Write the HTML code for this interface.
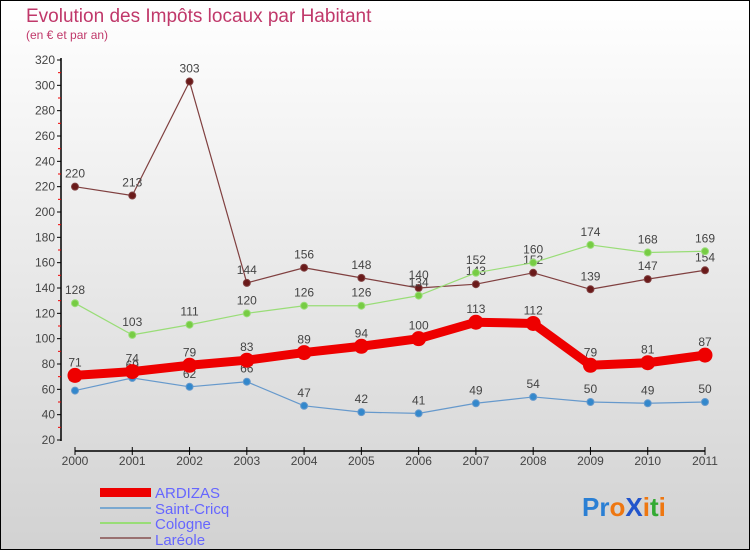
<!DOCTYPE html>
<html><head><meta charset="utf-8"><style>
body{margin:0}
#c{width:750px;height:550px;position:relative;box-sizing:border-box;border:1px solid #000;background:linear-gradient(#ffffff,#d2d2d2);font-family:"Liberation Sans",sans-serif;overflow:hidden}
</style></head><body>
<div id="c">
<svg id="s" width="750" height="550" style="position:absolute;left:-1px;top:-1px">
<text x="26" y="22" font-size="19" fill="#c0386a">Evolution des Impôts locaux par Habitant</text>
<text x="26" y="39" font-size="12" fill="#c0386a">(en € et par an)</text>
<g id="ax"></g><g id="ser"></g>
<g>
<rect x="100" y="488" width="51" height="9" fill="#e00"/>
<text x="155" y="498" font-size="15" fill="#6666ff">ARDIZAS</text>
<line x1="100" y1="508" x2="151" y2="508" stroke="#7aa8d0" stroke-width="2"/>
<text x="155" y="514" font-size="15" fill="#6666ff">Saint-Cricq</text>
<line x1="100" y1="523" x2="151" y2="523" stroke="#99dd77" stroke-width="2"/>
<text x="155" y="529" font-size="15" fill="#6666ff">Cologne</text>
<line x1="100" y1="538" x2="151" y2="538" stroke="#997070" stroke-width="2"/>
<text x="155" y="545" font-size="15" fill="#6666ff">Laréole</text>
</g>
<g font-size="26" font-weight="bold" font-family="Liberation Sans, sans-serif">
<text x="582" y="516"><tspan fill="#2a7fd4">Pr</tspan><tspan fill="#ee7711">o</tspan><tspan fill="#2255cc">X</tspan><tspan fill="#ee7711">i</tspan><tspan fill="#33aa33">t</tspan><tspan fill="#ee7711">i</tspan></text>
</g>
</svg>
</div>
<script>
const years=["2000","2001","2002","2003","2004","2005","2006","2007","2008","2009","2010","2011"];
const ardizas=[71,74,79,83,89,94,100,113,112,79,81,87];
const saintCricq=[59,69,62,66,47,42,41,49,54,50,49,50];
const cologne=[128,103,111,120,126,126,134,152,160,174,168,169];
const lareole=[220,213,303,144,156,148,140,143,152,139,147,154];
const yTicks=[20,40,60,80,100,120,140,160,180,200,220,240,260,280,300,320];
const NS="http://www.w3.org/2000/svg";
const X=i=>75+i*(630/11);
const Y=v=>440-(v-20)*(380/300);
function mk(t,a,p){const e=document.createElementNS(NS,t);for(const k in a)e.setAttribute(k,a[k]);p.appendChild(e);return e;}
const ax=document.getElementById('ax');
const yl=mk('line',{x1:61,y1:58,x2:61,y2:441,stroke:'#000','stroke-width':1.5},ax);


yTicks.forEach((v,i)=>{
 mk('line',{x1:57,y1:Y(v),x2:61,y2:Y(v),stroke:'#000'},ax);
 if(i<yTicks.length-1)mk('line',{x1:58,y1:Y(v+10),x2:61,y2:Y(v+10),stroke:'#e00'},ax);
 const t=mk('text',{x:55,y:Y(v)+4,'font-size':12,fill:'#444','text-anchor':'end'},ax);t.textContent=v;
 
 
});
const xl=mk('line',{x1:75,y1:451,x2:705,y2:451,stroke:'#000','stroke-width':1.5},ax);


years.forEach((y,i)=>{
 mk('line',{x1:X(i),y1:447,x2:X(i),y2:455,stroke:'#000'},ax);
 const t=mk('text',{x:X(i),y:465,'font-size':12,fill:'#444','text-anchor':'middle'},ax);t.textContent=y;
 
 
});
const ser=document.getElementById('ser');
function series(d,name,col,dot,w,r){
 const g=mk('g',{},ser);
 
 
 mk('polyline',{points:d.map((v,i)=>X(i)+','+Y(v)).join(' '),fill:'none',stroke:col,'stroke-width':w,'stroke-linejoin':'round'},g);
 d.forEach((v,i)=>{
  const c=mk('circle',{cx:X(i),cy:Y(v),r:r,fill:dot,stroke:col,'stroke-width':1},g);
  
  
  const t=mk('text',{x:X(i),y:Y(v)-9,'font-size':12,fill:'#444','text-anchor':'middle'},g);t.textContent=v;
  
  
 });
}
series(lareole,'lareole','#804040','#6a1a1a',1.2,3.5);
series(cologne,'cologne','#99dd77','#77cc44',1.2,3.5);
series(saintCricq,'saint-cricq','#6699cc','#3388cc',1.2,3.5);
series(ardizas,'ardizas','#ee0000','#ee0000',9,7);
</script>
</body></html>
